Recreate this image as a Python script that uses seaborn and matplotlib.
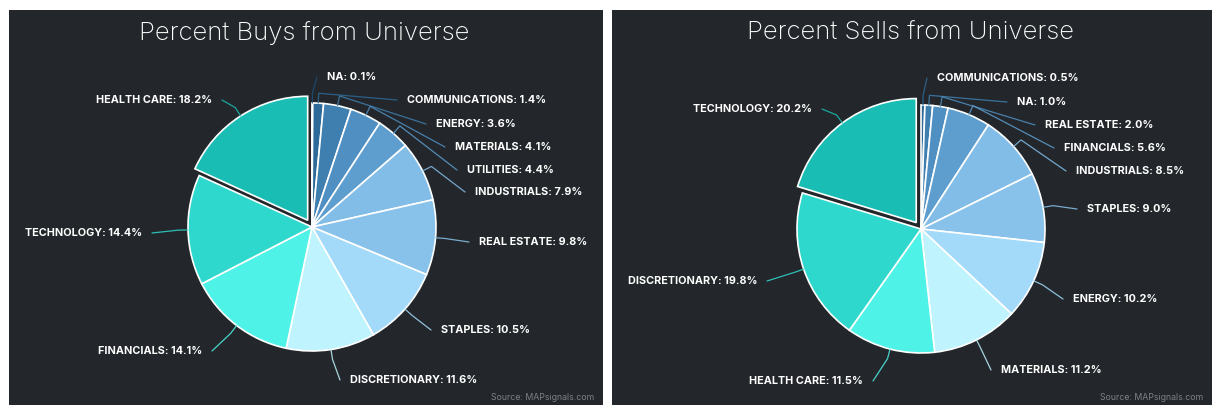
import numpy as np
import matplotlib.pyplot as plt
import seaborn as sns

# data
buy_sectors = ['NA', 'COMMUNICATIONS', 'ENERGY', 'MATERIALS', 'UTILITIES', 'INDUSTRIALS',
               'REAL ESTATE', 'STAPLES', 'DISCRETIONARY', 'FINANCIALS', 'TECHNOLOGY', 'HEALTH CARE']
buy_pct = [0.1, 1.4, 3.6, 4.1, 4.4, 7.9, 9.8, 10.5, 11.6, 14.1, 14.4, 18.2]

sell_sectors = ['COMMUNICATIONS', 'NA', 'REAL ESTATE', 'FINANCIALS', 'INDUSTRIALS', 'STAPLES',
                'ENERGY', 'MATERIALS', 'HEALTH CARE', 'DISCRETIONARY', 'TECHNOLOGY']
sell_pct = [0.5, 1.0, 2.0, 5.6, 8.5, 9.0, 10.2, 11.2, 11.5, 19.8, 20.2]

# slice colours, smallest slice first
palette = sns.color_palette(['#1d4f7a', '#2e6a99', '#3f7fb0', '#4f8fc2', '#5e9ecf', '#82bde8',
                             '#88c2ea', '#a3dafa', '#bff3fd', '#4ff2e6', '#2fd8cc', '#1abdb3'])

# label anchors in picture pixels (x, y, side)
buy_labels = [(327, 77, 'l'), (407, 100, 'l'), (436, 124, 'l'), (455, 147, 'l'), (467, 170, 'l'),
              (475, 192, 'l'), (479, 242, 'l'), (441, 330, 'l'), (350, 380, 'l'),
              (202, 351, 'r'), (142, 233, 'r'), (212, 100, 'r')]
sell_labels = [(937, 78, 'l'), (1017, 102, 'l'), (1045, 125, 'l'), (1064, 148, 'l'), (1076, 171, 'l'),
               (1087, 209, 'l'), (1073, 299, 'l'), (1001, 370, 'l'),
               (863, 381, 'r'), (757, 281, 'r'), (812, 109, 'r')]

sns.set_theme(style='dark')
plt.rcParams['font.family'] = ['Inter', 'DejaVu Sans']

BG = '#23272b'
PANEL_TOP, PANEL_BOT = 10, 405
fig = plt.figure(figsize=(12.18, 4.16), dpi=100, facecolor='white')


def draw_panel(rect_px, title, sectors, pct, labels, center_px, radius):
    x0, w = rect_px
    h = PANEL_BOT - PANEL_TOP
    ax = fig.add_axes([x0 / 1218, (416 - PANEL_BOT) / 416, w / 1218, h / 416])
    to_d = lambda x, y: (x - x0, PANEL_BOT - y)
    n = len(pct)
    colors = palette[-n:]
    # explode distance is in data units (pixels here)
    explode = [0] * (n - 1) + [8]
    wedges, _ = ax.pie(pct, colors=colors, startangle=90, counterclock=False, explode=explode,
                       center=to_d(*center_px), radius=radius, normalize=True,
                       wedgeprops=dict(edgecolor='white', linewidth=1.2))
    for wdg, name, val, (lx, ly, side), col in zip(wedges, sectors, pct, labels, colors):
        mid = np.deg2rad((wdg.theta1 + wdg.theta2) / 2)
        cx, cy = wdg.center
        ex, ey = cx + radius * np.cos(mid), cy + radius * np.sin(mid)
        kx, ky = cx + radius * 1.08 * np.cos(mid), cy + radius * 1.08 * np.sin(mid)
        tx, ty = to_d(lx, ly)
        gap = -10 if side == 'l' else 10
        ax.plot([ex, kx, tx + gap], [ey, ky, ty], color=col, lw=0.9, alpha=0.85,
                solid_capstyle='round')
        ax.text(tx, ty, f'{name}: {val:.1f}%', color='white', fontsize=7.8, fontweight='bold',
                ha='left' if side == 'l' else 'right', va='center')
    ax.set_axis_on()
    ax.set_frame_on(True)
    ax.set_facecolor(BG)
    ax.set_xlim(0, w)
    ax.set_ylim(0, h)
    ax.set_xticks([])
    ax.set_yticks([])
    for sp in ax.spines.values():
        sp.set_visible(False)
    ax.text(w / 2 - 2, h - 23, title, color='white', fontsize=18.5, fontweight='light',
            ha='center', va='center')
    ax.text(w - 9, 8, 'Source: MAPsignals.com', color='#7d8185', fontsize=6.3,
            ha='right', va='center')
    return ax


draw_panel((9, 594), 'Percent Buys from Universe', buy_sectors, buy_pct, buy_labels, (312, 227), 124)
draw_panel((612, 600), 'Percent Sells from Universe', sell_sectors, sell_pct, sell_labels, (921, 229), 124)

plt.savefig('out.png', dpi=100)
